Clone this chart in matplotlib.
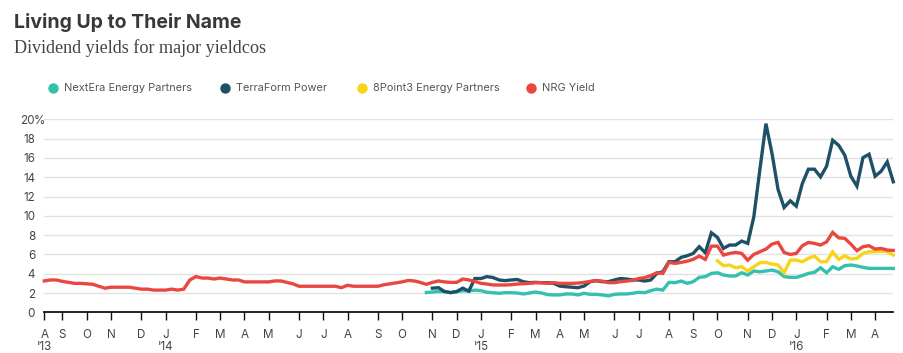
import matplotlib
matplotlib.use("Agg")
import matplotlib.pyplot as plt
import matplotlib.transforms as mtransforms
from matplotlib.lines import Line2D
import numpy as np
import pandas as pd

# ---------------- data ----------------
first_week = "2013-08-16"
n_weeks = 141

nrg_start = "2013-08-16"
nrg = [3.25, 3.35, 3.35, 3.2, 3.1, 3.0, 3.0, 2.95, 2.9, 2.7,
       2.5, 2.6, 2.6, 2.6, 2.6, 2.5, 2.4, 2.4, 2.3, 2.3,
       2.3, 2.4, 2.3, 2.4, 3.35, 3.7, 3.55, 3.55, 3.45, 3.55,
       3.45, 3.35, 3.35, 3.15, 3.15, 3.15, 3.15, 3.15, 3.25, 3.25,
       3.1, 2.95, 2.7, 2.7, 2.7, 2.7, 2.7, 2.7, 2.7, 2.55,
       2.8, 2.7, 2.7, 2.7, 2.7, 2.7, 2.85, 2.95, 3.05, 3.15,
       3.3, 3.25, 3.1, 2.9, 3.1, 3.25, 3.15, 3.1, 3.1, 3.45,
       3.35, 3.2, 3.0, 2.93, 2.83, 2.83, 2.83, 2.86, 2.93, 2.96,
       3.0, 3.07, 3.07, 3.0, 3.07, 3.0, 3.0, 3.0, 3.03, 3.1,
       3.2, 3.28, 3.24, 3.07, 3.07, 3.17, 3.24, 3.3, 3.5, 3.6,
       3.8, 4.1, 4.03, 5.17, 5.07, 5.17, 5.3, 5.48, 5.83, 5.48,
       6.86, 6.86, 5.93, 6.1, 6.2, 6.1, 5.4, 6.0, 6.28, 6.55,
       7.07, 7.24, 6.2, 6.0, 6.1, 6.9, 7.24, 7.14, 6.97, 7.3,
       8.28, 7.72, 7.66, 7.07, 6.38, 6.8, 6.9, 6.55, 6.62, 6.45, 6.41]

terraform_start = "2014-11-07"
terraform = [2.5, 2.55, 2.15, 2.05, 2.15, 2.5, 2.2, 3.5, 3.5, 3.7,
             3.6, 3.35, 3.28, 3.35, 3.4, 3.17, 3.07, 3.1, 3.07, 3.07,
             3.0, 2.72, 2.65, 2.6, 2.55, 2.72, 3.17, 3.28, 3.17, 3.17,
             3.35, 3.5, 3.45, 3.35, 3.35, 3.24, 3.35, 4.03, 4.2, 5.24,
             5.24, 5.69, 5.86, 6.1, 6.8, 6.17, 8.24, 7.76, 6.62, 6.97,
             6.97, 7.38, 7.14, 9.9, 14.8, 19.55, 16.45, 12.72, 10.86, 11.55,
             11.0, 13.34, 14.83, 14.83, 14.03, 15.14, 17.83, 17.3, 16.28, 14.1,
             13.07, 16.03, 16.38, 14.1, 14.62, 15.59, 13.52]

nextera_start = "2014-10-31"
nextera = [2.05, 2.1, 2.15, 2.15, 2.03, 2.14, 2.24, 2.2, 2.3, 2.24,
           2.07, 2.03, 1.97, 2.03, 2.03, 2.0, 1.9, 2.0, 2.1, 2.0,
           1.83, 1.8, 1.8, 1.9, 1.9, 1.8, 1.97, 1.86, 1.86, 1.8,
           1.7, 1.86, 1.9, 1.9, 1.97, 2.07, 2.03, 2.24, 2.4, 2.3,
           3.1, 3.07, 3.24, 3.0, 3.17, 3.62, 3.7, 4.03, 4.1, 3.86,
           3.76, 3.76, 4.1, 3.86, 4.28, 4.2, 4.28, 4.38, 4.2, 3.7,
           3.62, 3.62, 3.8, 4.03, 4.14, 4.62, 4.1, 4.72, 4.45, 4.83,
           4.9, 4.8, 4.66, 4.55, 4.55, 4.55, 4.55, 4.55]

point3_start = "2015-10-02"
point3 = [5.34, 4.83, 4.9, 4.62, 4.72, 4.28, 4.72, 5.14, 5.17, 5.0,
          4.9, 4.1, 5.41, 5.41, 5.24, 5.59, 5.83, 5.24, 5.24, 6.28,
          5.48, 5.86, 5.52, 5.59, 6.1, 6.28, 6.28, 6.34, 6.28, 5.93]

series_names = ["NextEra Energy Partners", "TerraForm Power",
                "8Point3 Energy Partners", "NRG Yield"]
series_colors = ["#35c0ad", "#1e5167", "#f7d417", "#e9473f"]
yticks = [0, 2, 4, 6, 8, 10, 12, 14, 16, 18, 20]

# ---------------- figure ----------------
W, H = 904, 353
fig = plt.figure(figsize=(W / 100, H / 100), dpi=100)
fig.patch.set_facecolor("white")

font = ["Inter", "DejaVu Sans"]
plt.rcParams["font.family"] = font

ax_l, ax_r = 44.3, 893.3
ax_b, ax_t = 312.3, 119.3
ax = fig.add_axes([ax_l / W, 1 - ax_b / H, (ax_r - ax_l) / W, (ax_b - ax_t) / H])

dates = pd.date_range(first_week, periods=n_weeks, freq="7D")

def series_dates(start, vals):
    return pd.date_range(start, periods=len(vals), freq="7D")

# gridlines
for v in yticks[1:]:
    ax.axhline(v, color="#e2e2e2", lw=1.0, zorder=0)

lw = 2.4
ax.plot(series_dates(nextera_start, nextera), nextera, color=series_colors[0], lw=lw,
        solid_joinstyle="miter", zorder=3, clip_on=False)
ax.plot(series_dates(terraform_start, terraform), terraform, color=series_colors[1], lw=lw,
        solid_joinstyle="miter", zorder=4, clip_on=False)
ax.plot(series_dates(point3_start, point3), point3, color=series_colors[2], lw=lw,
        solid_joinstyle="miter", zorder=3, clip_on=False)
ax.plot(series_dates(nrg_start, nrg), nrg, color=series_colors[3], lw=lw,
        solid_joinstyle="miter", zorder=5, clip_on=False)

ax.set_xlim(dates[0], dates[-1])
ax.set_ylim(0, 20)

for s in ["top", "right", "left"]:
    ax.spines[s].set_visible(False)
ax.spines["bottom"].set_color("#111111")
ax.spines["bottom"].set_linewidth(1.3)

# x ticks at first week of each month
ser = pd.Series(dates)
month_first = ser.groupby([ser.dt.year, ser.dt.month]).first().tolist()
month_labels = [d.strftime("%b")[0] for d in month_first]
tick_fs = 8.4
ax.set_xticks(month_first)
ax.set_xticklabels(month_labels, fontsize=tick_fs, color="#444444")
ax.tick_params(axis="x", direction="out", length=5.5, width=1.0, color="#111111", pad=6.5)

# year labels under the first tick and each January
year_trans = mtransforms.offset_copy(
    mtransforms.blended_transform_factory(ax.transData, ax.transAxes),
    fig=fig, x=0, y=-25.0, units="points")
for d in month_first:
    if d == month_first[0] or d.month == 1:
        ax.text(d, 0, "'" + d.strftime("%y"), transform=year_trans, ha="center", va="center",
                fontsize=tick_fs, color="#444444")

ax.set_yticks(yticks)
ax.set_yticklabels([str(v) for v in yticks], fontsize=tick_fs, color="#444444")
ax.tick_params(axis="y", length=0, pad=6.6)
trans = mtransforms.offset_copy(mtransforms.blended_transform_factory(ax.transAxes, ax.transData),
                                fig=fig, x=-7.3, y=0, units="points")
ax.text(0, 20, "%", transform=trans, ha="left", va="center_baseline", fontsize=tick_fs,
        color="#444444")

# titles
fig.text(14 / W, 1 - 27.8 / H, "Living Up to Their Name", fontsize=14.0, fontweight="bold",
         color="#383838", ha="left", va="baseline")
fig.text(14 / W, 1 - 53.3 / H, "Dividend yields for major yieldcos",
         family=["Liberation Serif", "DejaVu Serif"], fontsize=13.1, color="#444444",
         ha="left", va="baseline")

# legend
leg_dot_x = [53, 225, 362, 531]
leg_y = 88.3
for x, name, c in zip(leg_dot_x, series_names, series_colors):
    fig.add_artist(Line2D([x / W], [1 - leg_y / H], marker="o", markersize=7.5, color=c,
                          markeredgewidth=0, linestyle="none", transform=fig.transFigure))
    fig.text((x + 11) / W, 1 - leg_y / H, name, fontsize=7.9, color="#555555",
             ha="left", va="center")

fig.savefig("out.png", dpi=100, facecolor="white")
